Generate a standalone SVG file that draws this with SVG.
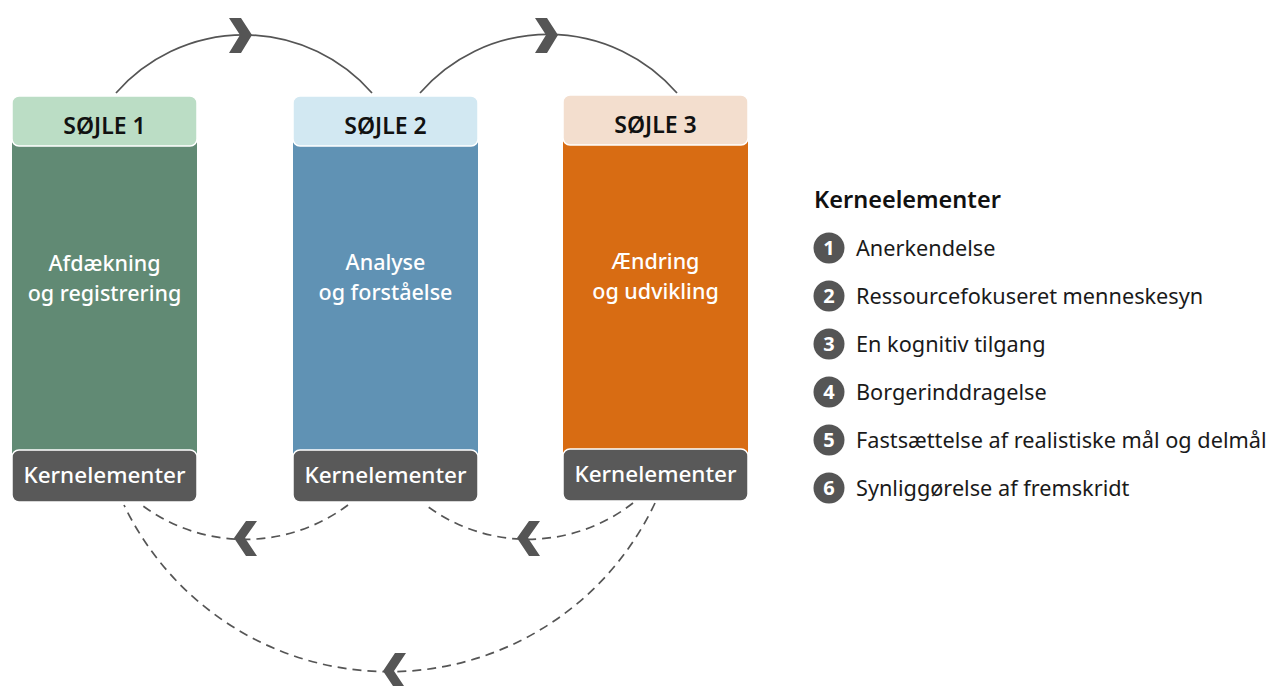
<svg xmlns="http://www.w3.org/2000/svg" width="1271" height="686" viewBox="0 0 1271 686">
<style>
.hdr{stroke:#fff;stroke-width:1.5}
.ke{fill:#595959;stroke:#fff;stroke-width:1.5}
.t-h{font-family:"Noto Sans","Open Sans",sans-serif;font-size:23px;font-weight:600;fill:#111;text-anchor:middle}
.t-b{font-family:"Noto Sans","Open Sans",sans-serif;font-size:21.5px;font-weight:500;fill:#fff;text-anchor:middle}
.t-k{font-family:"Noto Sans","Open Sans",sans-serif;font-size:22.5px;font-weight:500;fill:#fff;text-anchor:middle}
.solid{fill:none;stroke:#555;stroke-width:1.7}
.dash{fill:none;stroke:#555;stroke-width:1.7;stroke-dasharray:9 6}
.chev{fill:#555}
.lg{font-family:"Noto Sans","Open Sans",sans-serif;font-size:21.7px;fill:#1a1a1a}
.lgh{font-family:"Noto Sans","Open Sans",sans-serif;font-size:23.5px;font-weight:600;fill:#111}
.num{font-family:"Noto Sans","Open Sans",sans-serif;font-size:20px;font-weight:700;fill:#fff;text-anchor:middle}
.dot{fill:#555}
</style>
<g id="connectors">
<path class="solid" d="M116,93 A170,170 0 0 1 372,93"/>
<polygon class="chev" points="252,35 241,18 229,18 240,35 229,53 241,53"/>
<path class="solid" d="M420,93 A170,170 0 0 1 677,93"/>
<polygon class="chev" points="558,35 547,18 535,18 546,35 535,53 547,53"/>
<path class="dash" d="M348,505 A172,172 0 0 1 143,506"/>
<polygon class="chev" points="234,538 246,521 257,521 245,538 257,556 246,556"/>
<path class="dash" d="M633,503 A170,170 0 0 1 427,506"/>
<polygon class="chev" points="517,538 529,521 540,521 528,538 540,556 529,556"/>
<path class="dash" d="M655,503 A294,294 0 0 1 124,505"/>
<polygon class="chev" points="383,671 395,653 406,653 394,671 406,689 395,689"/>
</g>
<g id="pillar1">
<rect x="12" y="140" width="185" height="320" fill="#618A74"/>
<rect class="hdr" x="12" y="96" width="185" height="50" rx="7" fill="#BBDDC5"/>
<text class="t-h" x="104.5" y="134">SØJLE 1</text>
<text class="t-b" x="104.5" y="271">Afdækning</text>
<text class="t-b" x="104.5" y="301">og registrering</text>
<rect class="ke" x="12" y="450" width="185" height="52" rx="7"/>
<text class="t-k" x="104.5" y="483">Kernelementer</text>
</g>
<g id="pillar2">
<rect x="293" y="140" width="185" height="320" fill="#6092B4"/>
<rect class="hdr" x="293" y="96" width="185" height="50" rx="7" fill="#D2E8F2"/>
<text class="t-h" x="385.5" y="134">SØJLE 2</text>
<text class="t-b" x="385.5" y="270">Analyse</text>
<text class="t-b" x="385.5" y="300">og forståelse</text>
<rect class="ke" x="293" y="450" width="185" height="52" rx="7"/>
<text class="t-k" x="385.5" y="483">Kernelementer</text>
</g>
<g id="pillar3">
<rect x="563" y="139" width="185" height="320" fill="#D86C13"/>
<rect class="hdr" x="563" y="95" width="185" height="50" rx="7" fill="#F3DECE"/>
<text class="t-h" x="655.5" y="133">SØJLE 3</text>
<text class="t-b" x="655.5" y="269">Ændring</text>
<text class="t-b" x="655.5" y="299">og udvikling</text>
<rect class="ke" x="563" y="449" width="185" height="52" rx="7"/>
<text class="t-k" x="655.5" y="482">Kernelementer</text>
</g>
<g id="legend">
<text class="lgh" x="814" y="208">Kerneelementer</text>
<circle class="dot" cx="829" cy="248" r="15.5"/><text class="num" x="829" y="255">1</text>
<text class="lg" x="856" y="256">Anerkendelse</text>
<circle class="dot" cx="829" cy="296" r="15.5"/><text class="num" x="829" y="303">2</text>
<text class="lg" x="856" y="304">Ressourcefokuseret menneskesyn</text>
<circle class="dot" cx="829" cy="344" r="15.5"/><text class="num" x="829" y="351">3</text>
<text class="lg" x="856" y="352">En kognitiv tilgang</text>
<circle class="dot" cx="829" cy="392" r="15.5"/><text class="num" x="829" y="399">4</text>
<text class="lg" x="856" y="400">Borgerinddragelse</text>
<circle class="dot" cx="829" cy="440" r="15.5"/><text class="num" x="829" y="447">5</text>
<text class="lg" x="856" y="448">Fastsættelse af realistiske mål og delmål</text>
<circle class="dot" cx="829" cy="488" r="15.5"/><text class="num" x="829" y="495">6</text>
<text class="lg" x="856" y="496">Synliggørelse af fremskridt</text>
</g>
</svg>
